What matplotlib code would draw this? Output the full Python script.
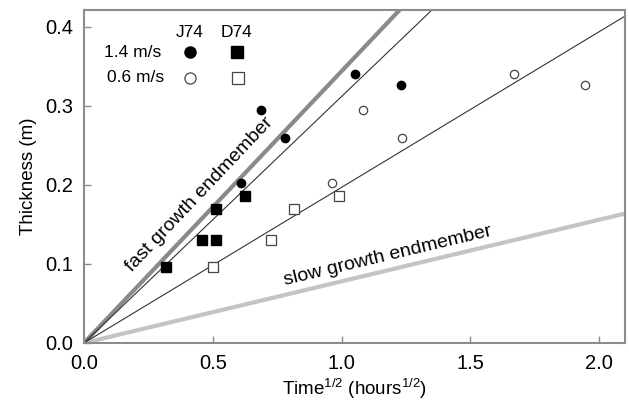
import numpy as np
import matplotlib.pyplot as plt

plt.rcParams['font.family'] = ['Liberation Sans', 'DejaVu Sans']
plt.rcParams['mathtext.fontset'] = 'custom'
plt.rcParams['mathtext.rm'] = 'Liberation Sans'
plt.rcParams['mathtext.default'] = 'regular'

# sqrt(time) in hours^1/2, thickness in m
j74_fast_t = [0.608, 0.689, 0.782, 1.054, 1.231]
j74_fast_h = [0.203, 0.295, 0.259, 0.340, 0.327]
j74_slow_t = [0.964, 1.085, 1.235, 1.671, 1.946]
j74_slow_h = [0.203, 0.295, 0.259, 0.340, 0.327]
d74_fast_t = [0.318, 0.460, 0.512, 0.512, 0.624]
d74_fast_h = [0.096, 0.130, 0.130, 0.170, 0.186]
d74_slow_t = [0.501, 0.727, 0.815, 0.990]
d74_slow_h = [0.096, 0.130, 0.170, 0.186]

# growth-rate slopes (m per hour^1/2)
fast_end = 0.344
slow_end = 0.078
fit_fast = 0.312
fit_slow = 0.197

grey = '#8c8c8c'
t = np.array([0.0, 2.1])

fig = plt.figure(figsize=(6.29, 4.09), dpi=100)
ax = fig.add_axes([0.1335, 0.1614, 0.86, 0.8142])

ax.plot(t, fast_end * t, color='#8a8a8a', lw=3.0, solid_capstyle='butt', zorder=2)
ax.plot(t, slow_end * t, color='#c4c4c4', lw=3.0, solid_capstyle='butt', zorder=2)
ax.plot(t, fit_fast * t, color='#333333', lw=0.8, zorder=2)
ax.plot(t, fit_slow * t, color='#333333', lw=0.8, zorder=2)

ax.plot(j74_fast_t, j74_fast_h, 'o', ms=6, color='black', zorder=3)
ax.plot(j74_slow_t, j74_slow_h, 'o', ms=6, mfc='white', mec='#444444', mew=0.9, zorder=3)
ax.plot(d74_fast_t, d74_fast_h, 's', ms=7, color='black', zorder=3)
ax.plot(d74_slow_t, d74_slow_h, 's', ms=7, mfc='white', mec='#444444', mew=0.9, zorder=3)

# marker key in the top-left corner
kw = dict(transform=ax.transAxes, clip_on=False, zorder=4)
ax.text(0.196, 0.933, 'J74', fontsize=12.5, ha='center', va='center', transform=ax.transAxes)
ax.text(0.282, 0.933, 'D74', fontsize=12.5, ha='center', va='center', transform=ax.transAxes)
ax.text(0.09, 0.873, '1.4 m/s', fontsize=12.5, ha='center', va='center', transform=ax.transAxes)
ax.text(0.095, 0.797, '0.6 m/s', fontsize=12.5, ha='center', va='center', transform=ax.transAxes)
ax.plot(0.196, 0.873, 'o', ms=8, color='black', **kw)
ax.plot(0.283, 0.873, 's', ms=8, color='black', **kw)
ax.plot(0.196, 0.797, 'o', ms=8, mfc='white', mec='#444444', mew=0.9, **kw)
ax.plot(0.284, 0.797, 's', ms=8, mfc='white', mec='#444444', mew=0.9, **kw)

ax.text(0.447, 0.188, 'fast growth endmember', fontsize=14,
        rotation=np.degrees(np.arctan(fast_end)), transform_rotates_text=True,
        rotation_mode='anchor', ha='center', va='center')
ax.text(1.178, 0.110, 'slow growth endmember', fontsize=14,
        rotation=np.degrees(np.arctan(slow_end)), transform_rotates_text=True,
        rotation_mode='anchor', ha='center', va='center')

ax.set_xlim(0, 2.1)
ax.set_ylim(0, 0.4215)
ax.set_xticks([0.0, 0.5, 1.0, 1.5, 2.0])
ax.set_yticks([0.0, 0.1, 0.2, 0.3, 0.4])
ax.set_xticklabels(['0.0', '0.5', '1.0', '1.5', '2.0'])
ax.set_yticklabels(['0.0', '0.1', '0.2', '0.3', '0.4'])
ax.tick_params(direction='in', length=5, width=1, color=grey, labelsize=14.5, pad=8)
for s in ax.spines.values():
    s.set_color(grey)
    s.set_linewidth(1.5)

ax.set_xlabel('Time$^{1/2}$ (hours$^{1/2}$)', fontsize=13.5, labelpad=3)
ax.set_ylabel('Thickness (m)', fontsize=13.5, labelpad=6)

fig.savefig('out.png', dpi=100)
